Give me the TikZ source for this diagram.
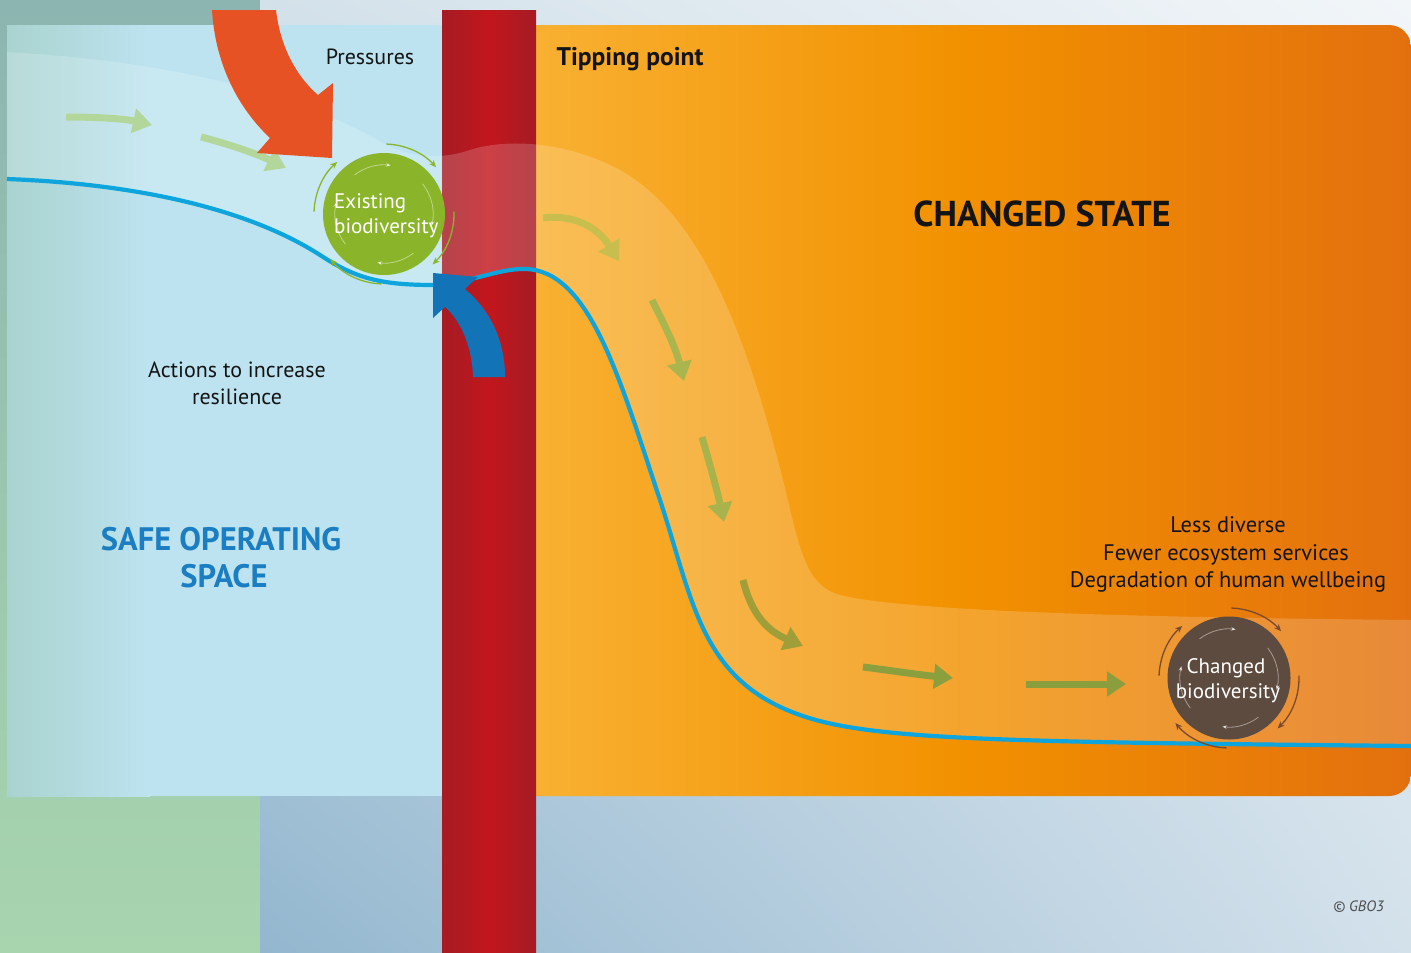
\documentclass[tikz,border=0pt]{standalone}
\usepackage{fontspec}
\setmainfont{PT Sans}
\usetikzlibrary{arrows.meta,shadings}

% palette
\definecolor{bgTeal}{HTML}{8CB5B1}
\definecolor{bgGreen}{HTML}{A8D5AE}
\definecolor{bgUL}{HTML}{D3E1EA}
\definecolor{bgUR}{HTML}{F2F6F9}
\definecolor{bgLL}{HTML}{93B7CF}
\definecolor{bgLR}{HTML}{D3E1EB}
\definecolor{safeBlue}{HTML}{BDE3F0}
\definecolor{safeTeal}{HTML}{A9D3CF}
\definecolor{orA}{HTML}{F9B234}
\definecolor{orB}{HTML}{F29100}
\definecolor{orC}{HTML}{E3700E}
\definecolor{barEdge}{HTML}{A51B24}
\definecolor{barMid}{HTML}{C3161D}
\definecolor{lineBlue}{HTML}{0EA4DC}
\definecolor{pressRed}{HTML}{E65223}
\definecolor{actBlue}{HTML}{1273B7}
\definecolor{bioGreen}{HTML}{8AB52A}
\definecolor{bioBrown}{HTML}{5E4B3F}
\definecolor{ringBrown}{HTML}{7A4A2C}
\definecolor{safeText}{HTML}{1C7EC2}
\definecolor{inkBlack}{HTML}{141414}
\definecolor{fA}{HTML}{B3D69B}
\definecolor{fB}{HTML}{C8BE4E}
\definecolor{fC}{HTML}{ABB54D}
\definecolor{fD}{HTML}{A8B44B}
\definecolor{fE}{HTML}{A09E39}
\definecolor{fF}{HTML}{8C9F3E}
\definecolor{fG}{HTML}{8A9E3E}

\tikzset{
  flow/.style={line width=7pt, -{Triangle[length=19pt,width=24pt]}},
  ringarc/.style={line width=1.3pt, -{Stealth[length=7pt,width=6pt]}},
  innerarc/.style={draw=white, draw opacity=0.45, line width=0.8pt, -{Stealth[length=5pt,width=4pt]}},
  body/.style={font=\fontsize{22}{26}\selectfont, text=inkBlack, inner sep=0pt},
  biotext/.style={font=\fontsize{21}{25}\selectfont, text=white, inner sep=0pt},
}

\begin{document}
\begin{tikzpicture}[x=1pt,y=-1pt]
\useasboundingbox (0,0) rectangle (1411,953);

% backdrop
\shade[top color=bgTeal, bottom color=bgGreen] (0,0) rectangle (260,953);
\shade[upper left=bgUL, upper right=bgUR, lower left=bgLL, lower right=bgLR] (260,0) rectangle (1411,953);

% safe operating space panel
\fill[safeBlue] (7,25) rectangle (460,796);
\shade[left color=safeTeal, right color=safeBlue] (7,25) rectangle (150,796);

% changed state panel
\shade[left color=orA, right color=orC, middle color=orB, rounded corners=22pt] (515,25) rectangle (1411,796);

% tipping point bar
\shade[left color=barEdge, right color=barEdge, middle color=barMid] (442,10) rectangle (536,953);

% light corridor above the state curve
\fill[white, opacity=0.18]
  (7,52) .. controls (180,62) and (300,95) .. (383,143)
  .. controls (410,158) and (440,160) .. (470,150)
  .. controls (500,140) and (560,138) .. (620,170)
  .. controls (700,215) and (745,330) .. (783,480)
  .. controls (800,550) and (805,585) .. (840,595)
  .. controls (900,610) and (1100,617) .. (1411,620)
  -- (1411,746)
  .. controls (1000,742) and (870,740) .. (800,715)
  .. controls (700,680) and (693,600) .. (660,500)
  .. controls (620,380) and (590,270) .. (525,269)
  .. controls (500,268) and (470,283) .. (433,285)
  .. controls (380,285) and (355,278) .. (320,255)
  .. controls (250,210) and (140,184) .. (7,179) -- cycle;

% flow arrows along the corridor
\draw[flow, fA] (66,117) .. controls (100,117) and (125,119) .. (152,125);
\draw[flow, fA] (201,137) .. controls (225,143) and (255,153) .. (286,168);
\draw[flow, fB] (543,218) .. controls (575,214) and (598,228) .. (619,261);
\draw[flow, fC] (652,300) .. controls (662,320) and (675,345) .. (684,381);
\draw[flow, fD] (702,437) .. controls (710,465) and (717,490) .. (724,522);
\draw[flow, fE] (743,580) .. controls (752,617) and (770,632) .. (803,646);
\draw[flow, fF] (863,667) .. controls (895,671) and (920,675) .. (953,678);
\draw[flow, fG] (1026,684) -- (1126,684);

% state curve
\draw[lineBlue, line width=4.2pt]
  (7,179) .. controls (140,184) and (250,210) .. (320,255)
  .. controls (355,278) and (380,285) .. (433,285)
  .. controls (470,283) and (500,268) .. (525,269)
  .. controls (590,270) and (620,380) .. (660,500)
  .. controls (693,600) and (700,680) .. (800,715)
  .. controls (870,740) and (1000,742) .. (1411,746);

% pressures arrow
\fill[pressRed] (212,10) .. controls (215,60) and (235,105) .. (270,138)
  -- (257,153) -- (332,158) -- (333,83) -- (318,95)
  .. controls (295,75) and (280,45) .. (276,10) -- cycle;

% resilience actions arrow
\fill[actBlue] (473,377) .. controls (472,345) and (460,320) .. (445,307)
  -- (433,318) -- (433,273) -- (478,277) -- (465,289)
  .. controls (490,310) and (505,340) .. (505,377) -- cycle;

% biodiversity states
\node[circle, fill=bioGreen, minimum size=122pt, inner sep=0pt] (exist) at (384,214) {};
\node[circle, fill=bioBrown, minimum size=123pt, inner sep=0pt] (changed) at (1229,678) {};

\foreach \a/\b in {-88/-42, -2/46, 92/140, 182/228} {
  \draw[ringarc, bioGreen] (exist.center) ++(\a:70) arc[start angle=\a, end angle=\b, radius=70];
  \draw[ringarc, ringBrown] (changed.center) ++(\a:70) arc[start angle=\a, end angle=\b, radius=70];
}
\foreach \a/\b in {-127/-82, -38/14, 53/98, 142/194} {
  \draw[innerarc] (exist.center) ++(\a:49) arc[start angle=\a, end angle=\b, radius=49];
  \draw[innerarc] (changed.center) ++(\a:49) arc[start angle=\a, end angle=\b, radius=49];
}

\node[biotext, anchor=base west] (existA) at (334,208) {Existing};
\node[biotext, anchor=base west] (existB) at (334,233) {biodiversity};
\node[biotext, anchor=base] (changedA) at (1226,673) {Changed};
\node[biotext, anchor=base] (changedB) at (1228,698) {biodiversity};

% labels
\node[body, anchor=base] (press) at (370,64) {Pressures};
\node[body, anchor=base, font=\fontsize{25.5}{30}\selectfont\bfseries] (tip) at (630,65) {Tipping point};
\node[body, anchor=base, font=\fontsize{36}{42}\selectfont\bfseries] (changedstate) at (1042,226) {CHANGED STATE};
\node[body, anchor=base] (actA) at (237,377) {Actions to increase};
\node[body, anchor=base] (actB) at (237,404) {resilience};
\node[body, anchor=base, text=safeText, font=\fontsize{32.5}{38}\selectfont\bfseries] (safeA) at (221,550) {SAFE OPERATING};
\node[body, anchor=base, text=safeText, font=\fontsize{32.5}{38}\selectfont\bfseries] (safeB) at (224,587) {SPACE};
\node[body, anchor=base, font=\fontsize{22.5}{27}\selectfont] (effA) at (1228,532) {Less diverse};
\node[body, anchor=base, font=\fontsize{22.5}{27}\selectfont] (effB) at (1226,560) {Fewer ecosystem services};
\node[body, anchor=base, font=\fontsize{22.5}{27}\selectfont] (effC) at (1228,587) {Degradation of human wellbeing};
\node[body, anchor=base east, text=black!70, font=\fontsize{15}{18}\selectfont\itshape] (credit) at (1384,911) {© GBO3};
\end{tikzpicture}
\end{document}
